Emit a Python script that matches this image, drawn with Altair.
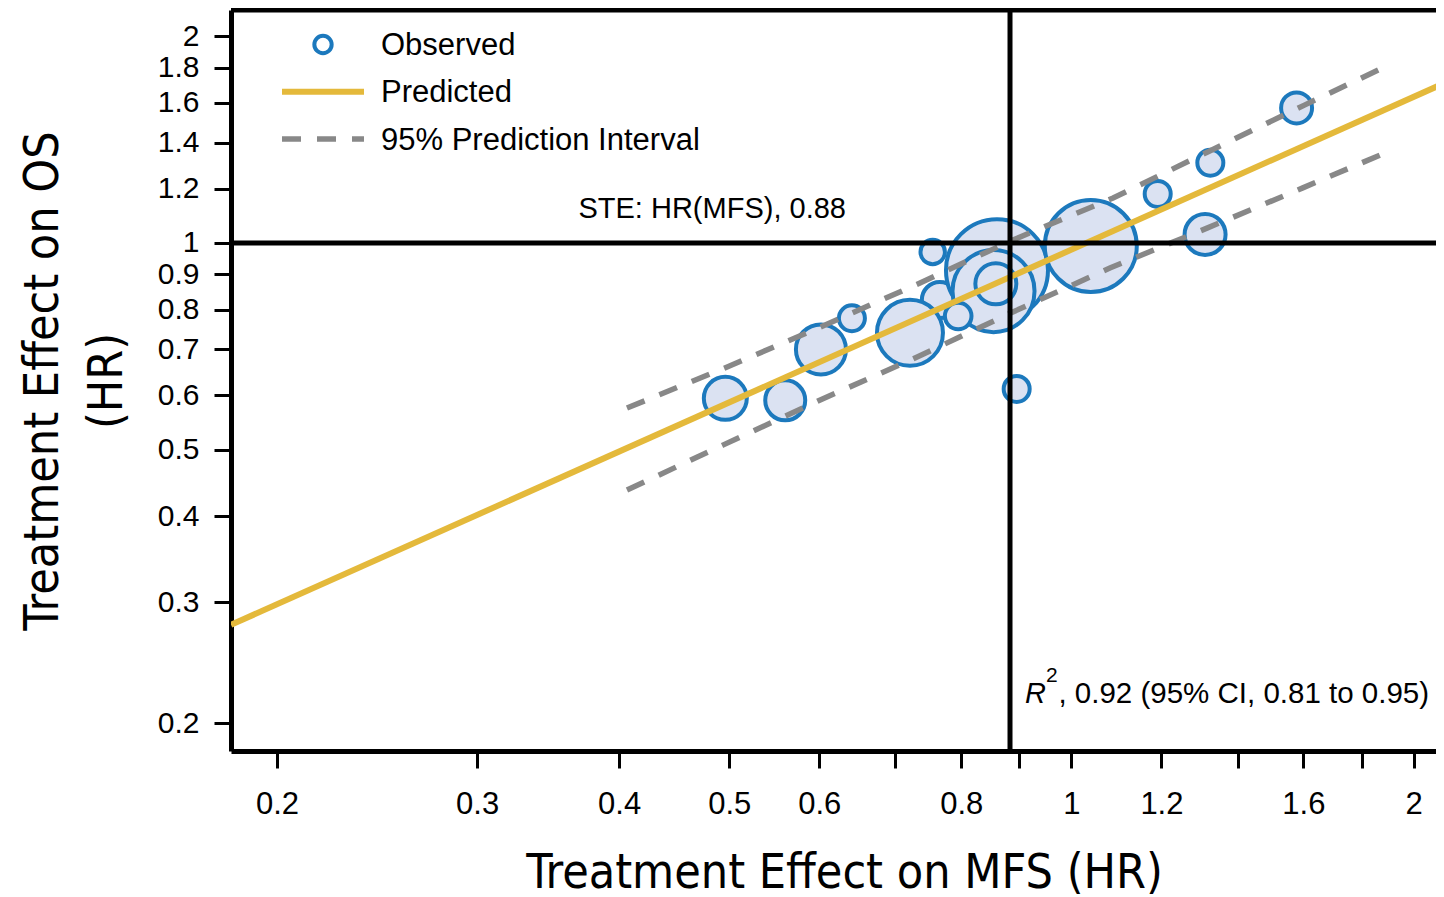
import altair as alt
import pandas as pd

# ---------------- data ----------------
# observed trials: treatment effect on MFS (HR), on OS (HR), relative trial weight
mfs_hr = [0.766, 0.860, 1.040, 0.854, 0.721, 0.858, 0.795, 0.496, 0.560,
          0.602, 0.641, 0.755, 0.895, 1.191, 1.325, 1.311, 1.578]
os_hr = [0.826, 0.913, 0.990, 0.851, 0.740, 0.872, 0.783, 0.594, 0.590,
         0.700, 0.777, 0.970, 0.613, 1.179, 1.309, 1.029, 1.573]
weight = [324, 2601, 2116, 1681, 1089, 420, 177, 462, 400,
          625, 169, 149, 169, 169, 169, 420, 240]

# predicted regression line (log-log)
pred_x = [0.1822, 2.127]
pred_y = [0.278, 1.708]

# 95% prediction interval bounds
pi_x = [0.4064, 0.4955, 0.6044, 0.7358, 0.8881, 1.088, 1.318, 1.605, 1.887]
pi_upper = [0.575, 0.6577, 0.7571, 0.8746, 1.010, 1.163, 1.357, 1.589, 1.805]
pi_x_low = [0.4064, 0.4935, 0.5984, 0.7284, 0.8881, 1.081, 1.316, 1.598, 1.887]
pi_lower = [0.4368, 0.5078, 0.5887, 0.6801, 0.7935, 0.9196, 1.051, 1.203, 1.352]

ste_mfs = 0.883      # surrogate threshold effect
null_hr = 1.0

x_domain = [0.1822, 2.093]
y_domain = [0.1821, 2.184]
x_tick_values = [0.2, 0.3, 0.4, 0.5, 0.6, 0.7, 0.8, 0.9, 1, 1.2, 1.4, 1.6, 1.8, 2]
x_tick_labels = [0.2, 0.3, 0.4, 0.5, 0.6, 0.8, 1, 1.2, 1.6, 2]
y_tick_values = [0.2, 0.3, 0.4, 0.5, 0.6, 0.7, 0.8, 0.9, 1, 1.2, 1.4, 1.6, 1.8, 2]

legend_labels = ["Observed", "Predicted", "95% Prediction Interval"]
ste_text = "STE: HR(MFS), 0.88"
ste_pos = [0.483, 1.0856]
r2_main = "R"
r2_sup = "2"
r2_rest = ", 0.92 (95% CI, 0.81 to 0.95)"
r2_pos = [0.9101, 0.2137]
r2_sup_pos = [0.9497, 0.2295]
r2_rest_pos = [0.9740, 0.2137]

# ---------------- styling ----------------
BLUE = "#1c79bd"
FILL = "#dbe2f2"
YELLOW = "#e4b93b"
GRAY = "#888888"
LABEL_FONT = "Liberation Sans"
TITLE_FONT = "DejaVu Sans Condensed"
W, H = 1205, 741

xscale = alt.Scale(type="log", domain=x_domain, nice=False)
yscale = alt.Scale(type="log", domain=y_domain, nice=False)

label_list = ",".join(str(v) for v in x_tick_labels)
x_axis = alt.Axis(
    orient="bottom", values=x_tick_values, format="~g",
    labelExpr=f"indexof([{label_list}], datum.value) >= 0 ? datum.label : ''",
    tickSize=17, tickWidth=3, tickColor="black",
    domainColor="black", domainWidth=5, grid=False,
    labelFont=LABEL_FONT, labelFontSize=31, labelColor="black",
    labelPadding=21, labelOverlap=False, labelFlush=False, labelBound=False,
    title="Treatment Effect on MFS (HR)", titleFont=TITLE_FONT,
    titleFontSize=48, titleFontWeight="normal", titleColor="black",
    titleX=613, titleY=136, titleBaseline="alphabetic", titleAlign="center",
)
y_axis = alt.Axis(
    orient="left", values=y_tick_values, format="~g",
    tickSize=17, tickWidth=3, tickColor="black",
    domainColor="black", domainWidth=5, grid=False,
    labelFont=LABEL_FONT, labelFontSize=30, labelColor="black",
    labelPadding=15, labelOverlap=False, labelFlush=False, labelBound=False,
    title=["Treatment Effect on OS", "(HR)"], titleFont=TITLE_FONT,
    titleFontSize=48, titleFontWeight="normal", titleColor="black",
    titleX=-174, titleY=H / 2, titleAngle=270, titleBaseline="alphabetic",
    titleAlign="center", titleLineHeight=64,
)


def X(field):
    return alt.X(field, scale=xscale, axis=x_axis)


def Y(field):
    return alt.Y(field, scale=yscale, axis=y_axis)


obs = pd.DataFrame({"mfs": mfs_hr, "os": os_hr, "weight": weight,
                    "order": list(range(len(mfs_hr)))})
pred = pd.DataFrame({"mfs": pred_x, "os": pred_y})
pi = pd.DataFrame({
    "mfs": pi_x + pi_x_low,
    "os": pi_upper + pi_lower,
    "bound": ["upper"] * len(pi_x) + ["lower"] * len(pi_x_low),
})

points = alt.Chart(obs).mark_point(
    shape="circle", filled=True, fill=FILL, stroke=BLUE, strokeWidth=4,
    opacity=1, fillOpacity=1,
).encode(
    x=X("mfs:Q"),
    y=Y("os:Q"),
    size=alt.Size("weight:Q", scale=alt.Scale(type="linear", domain=[0, 2601],
                                              range=[0, 10404]), legend=None),
    order=alt.Order("order:Q"),
)

pred_line = alt.Chart(pred).mark_line(color=YELLOW, strokeWidth=6, clip=True).encode(
    x=X("mfs:Q"), y=Y("os:Q"),
)

pi_lines = alt.Chart(pi).mark_line(
    color=GRAY, strokeWidth=5.5, strokeDash=[19, 16], clip=True
).encode(
    x=X("mfs:Q"), y=Y("os:Q"), detail="bound:N",
)

vrule = alt.Chart(pd.DataFrame({"mfs": [ste_mfs]})).mark_rule(
    color="black", strokeWidth=5).encode(x=X("mfs:Q"))
hrule = alt.Chart(pd.DataFrame({"os": [null_hr]})).mark_rule(
    color="black", strokeWidth=5).encode(y=Y("os:Q"))

one = pd.DataFrame({"k": [0]})
# top border of the plot frame
top_border = alt.Chart(one).mark_rule(color="black", strokeWidth=5).encode(
    x=alt.value(0), x2=alt.value(W), y=alt.value(0))


def note(text, pos, size=29, style="normal", align="left"):
    df = pd.DataFrame({"mfs": [pos[0]], "os": [pos[1]], "t": [text]})
    return alt.Chart(df).mark_text(
        font=LABEL_FONT, fontSize=size, fontStyle=style, color="black",
        align=align, baseline="alphabetic",
    ).encode(x=X("mfs:Q"), y=Y("os:Q"), text="t:N")


ste_note = note(ste_text, ste_pos, align="center")
r2_a = note(r2_main, r2_pos, style="italic")
r2_b = note(r2_sup, r2_sup_pos, size=21)
r2_c = note(r2_rest, r2_rest_pos, size=29.5)

# ---------------- legend (inside plot, top-left) ----------------
leg_circle = alt.Chart(one).mark_point(
    shape="circle", filled=True, fill="white", stroke=BLUE, strokeWidth=4,
    size=300, opacity=1,
).encode(x=alt.value(92), y=alt.value(34.5))
leg_line = alt.Chart(one).mark_rule(color=YELLOW, strokeWidth=6).encode(
    x=alt.value(51), x2=alt.value(133), y=alt.value(81.7))
leg_dash = alt.Chart(one).mark_rule(
    color=GRAY, strokeWidth=5.5, strokeDash=[19, 16]).encode(
    x=alt.value(51), x2=alt.value(133), y=alt.value(129))


def leg_text(label, ypx):
    return alt.Chart(pd.DataFrame({"t": [label]})).mark_text(
        font=LABEL_FONT, fontSize=31, color="black", align="left",
        baseline="alphabetic",
    ).encode(x=alt.value(150), y=alt.value(ypx), text="t:N")


leg_texts = [leg_text(lbl, 44.5 + 47.5 * i) for i, lbl in enumerate(legend_labels)]

chart = alt.layer(
    points, pred_line, pi_lines, vrule, hrule, top_border,
    ste_note, r2_a, r2_b, r2_c,
    leg_circle, leg_line, leg_dash, *leg_texts,
).properties(
    width=W, height=H,
    autosize=alt.AutoSizeParams(type="none"),
    padding={"left": 223, "top": 2, "right": 0, "bottom": 146},
    background="white",
).configure_view(stroke=None)

chart.save("out.html", embed_options={"renderer": "svg", "actions": False})
